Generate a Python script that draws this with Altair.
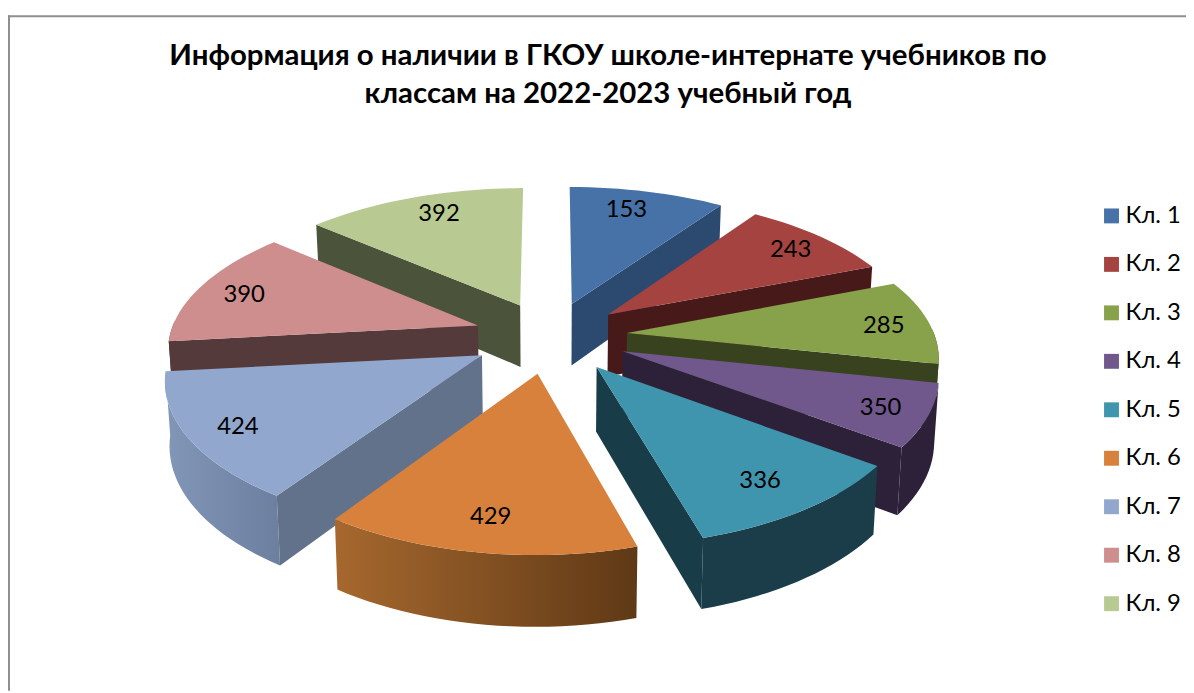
import math
import altair as alt
import pandas as pd

categories = ["Кл. 1", "Кл. 2", "Кл. 3", "Кл. 4", "Кл. 5", "Кл. 6", "Кл. 7", "Кл. 8", "Кл. 9"]
printed_values = [153, 243, 285, 350, 336, 429, 424, 390, 392]
# angular share of each slice (degrees)
slice_sweeps = [33, 33, 34, 25, 38.5, 51.5, 51, 47, 47]
top_colors = ["#4672a8", "#a54340", "#87a24b", "#70578c", "#4095ae", "#d7813c", "#91a7cd", "#ce8e8d", "#b8ca92"]
cut_colors = ["#2c4a70", "#471a19", "#39421e", "#2c2139", "#193d48", "#5f3916", "#62728b", "#543a3a", "#4b533b"]
wall_left = ["#2c4a70", "#471a19", "#39421e", "#2c2139", "#1b3d49", "#a6682e", "#8296b8", "#543a3a", "#4b533b"]
wall_right = ["#2c4a70", "#471a19", "#39421e", "#2c2139", "#1b3d49", "#5f3916", "#6c7f9f", "#543a3a", "#4b533b"]
draw_order = [8, 0, 1, 7, 2, 3, 6, 4, 5]
label_radius = [0.84, 0.85, 0.85, 0.85, 0.80, 0.81, 0.84, 0.84, 0.84]
label_turn = [-2.5, 0, 0, 0, 0, 0, 0, 0, 2.6]
title_lines = ["Информация о наличии в ГКОУ школе-интернате учебников по", "классам на 2022-2023 учебный год"]

W, H = 1186, 685
FONT = "Lato"
CX, CY, A, B, KX, KY, THICK, EXPLODE = 546, 329, 312, 144, 0.11, 0.146, 63.5, 0.25


def project(X, Y, z):
    px = CX + A * X / (1 - KX * Y) * (1 - 0.012 * z)
    py = CY + B * Y / (1 - KY * Y) + 4 * X * X + z * THICK * (1 + 0.11 * Y)
    return px, py


def point(mid, theta, r, z):
    m, t = math.radians(mid), math.radians(theta)
    return project(EXPLODE * math.sin(m) + r * math.sin(t), -(EXPLODE * math.cos(m) + r * math.cos(t)), z)


def poly_df(pts):
    return pd.DataFrame({"x": [p[0] for p in pts], "y": [p[1] for p in pts], "i": range(len(pts))})


x_enc = alt.X("x:Q", scale=alt.Scale(domain=[0, W], range=[0, W]), axis=None)
y_enc = alt.Y("y:Q", scale=alt.Scale(domain=[0, H], range=[0, H]), axis=None)


def poly(pts, fill):
    return alt.Chart(poly_df(pts)).mark_line(filled=True, fill=fill, stroke=None, strokeWidth=0).encode(
        x=x_enc, y=y_enc, order=alt.Order("i:Q"))


starts = [sum(slice_sweeps[:i]) for i in range(9)]
layers = []
labels = []
for k in draw_order:
    a0, a1 = starts[k], starts[k] + slice_sweeps[k]
    mid = (a0 + a1) / 2
    steps = max(6, int(a1 - a0) // 2)
    arc = [a0 + (a1 - a0) * j / steps for j in range(steps + 1)]
    # outer wall
    vis = [t for t in arc if 85 <= t <= 275]
    if len(vis) > 1:
        pts = [point(mid, t, 1, 0) for t in vis] + [point(mid, t, 1, 1) for t in reversed(vis)]
        fill = alt.LinearGradient(gradient="linear", x1=0, x2=1, y1=0, y2=0,
                                  stops=[alt.GradientStop(offset=0, color=wall_left[k]),
                                         alt.GradientStop(offset=1, color=wall_right[k])])
        layers.append(poly(pts, fill))
    # cut walls
    for edge, visible in ((a1, math.sin(math.radians(a1)) > 0.02), (a0, -math.sin(math.radians(a0)) > 0.02)):
        if visible:
            pts = [point(mid, 0, 0, 0), point(mid, edge, 1, 0), point(mid, edge, 1, 1), point(mid, 0, 0, 1)]
            layers.append(poly(pts, cut_colors[k]))
    # top face
    pts = [point(mid, 0, 0, 0)] + [point(mid, t, 1, 0) for t in arc]
    layers.append(poly(pts, top_colors[k]))
    lx, ly = point(mid, mid + label_turn[k], label_radius[k], 0)
    labels.append({"x": lx, "y": ly + 3, "v": printed_values[k]})

label_layer = alt.Chart(pd.DataFrame(labels)).mark_text(font=FONT, fontSize=24, color="#000000").encode(
    x=x_enc, y=y_enc, text="v:Q")

legend_layer = alt.Chart(pd.DataFrame({"cat": categories, "x": [0] * 9, "y": [0] * 9})).mark_square(
    size=0, opacity=0).encode(
    x=x_enc, y=y_enc,
    color=alt.Color("cat:N", scale=alt.Scale(domain=categories, range=top_colors),
                    legend=alt.Legend(orient="none", legendX=1099, legendY=195, title=None,
                                      symbolType="square", symbolSize=225, symbolOpacity=1,
                                      symbolStrokeWidth=0, labelFont=FONT, labelFontSize=24,
                                      labelColor="#000000", rowPadding=24.8, labelOffset=2,
                                      labelLimit=100)))

border_top = alt.Chart(pd.DataFrame({"x": [0]})).mark_rule(color="#8e8e8e", strokeWidth=2).encode(
    x=alt.value(0), x2=alt.value(W), y=alt.value(6))
border_left = alt.Chart(pd.DataFrame({"x": [0]})).mark_rule(color="#8e8e8e", strokeWidth=2).encode(
    x=alt.value(1), y=alt.value(5), y2=alt.value(H))

chart = alt.layer(border_top, border_left, *layers, label_layer, legend_layer).properties(
    width=W, height=H,
    padding=0,
    autosize=alt.AutoSizeParams(type="none"),
    title=alt.TitleParams(text=title_lines, font=FONT, fontSize=29.6, fontWeight="bold", color="#000000",
                          anchor="middle", dx=11, dy=99.5, lineHeight=38, offset=0),
).configure_view(stroke=None)

chart.save("out.html", embed_options={"renderer": "svg", "actions": False})
